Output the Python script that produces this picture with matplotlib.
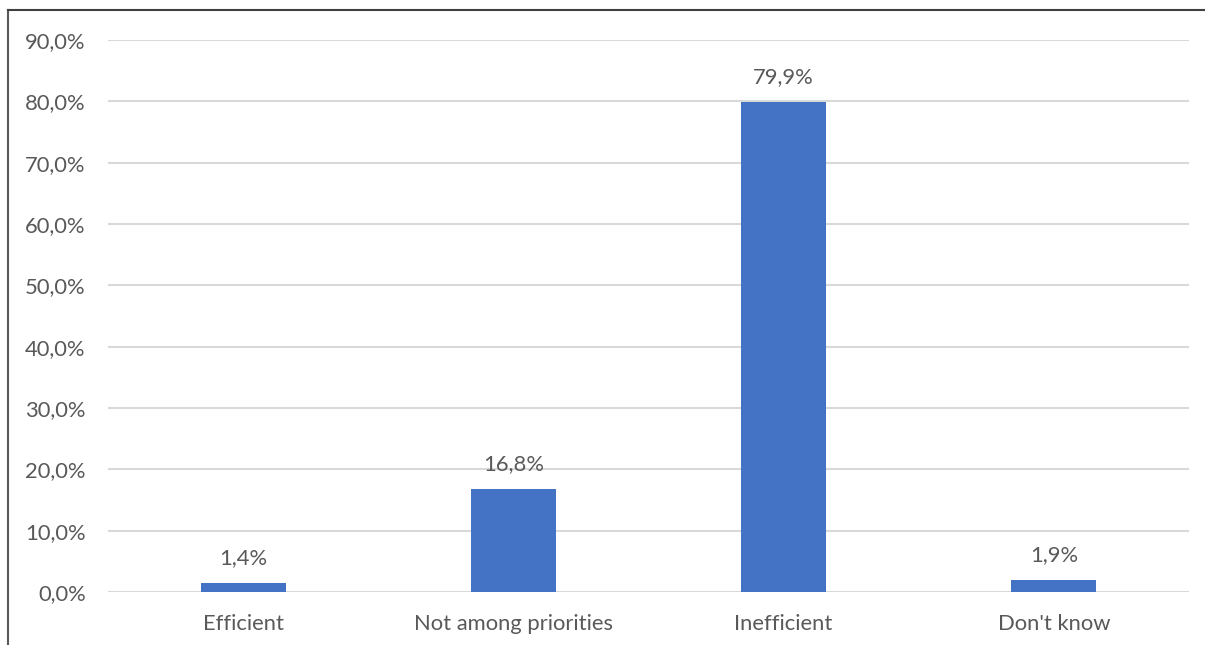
import matplotlib
matplotlib.use("Agg")
import matplotlib.pyplot as plt
from matplotlib.lines import Line2D
from matplotlib.ticker import FuncFormatter, MultipleLocator

categories = ["Efficient", "Not among priorities", "Inefficient", "Don't know"]
values = [1.4, 16.8, 79.9, 1.9]
labels = ["1,4%", "16,8%", "79,9%", "1,9%"]

plt.rcParams['font.family'] = ['Lato', 'DejaVu Sans']
text_color = "#595959"
fs = 15.8

fig = plt.figure(figsize=(12.05, 6.45), dpi=100)
ax = fig.add_axes([108/1205, 53/645, (1189-108)/1205, (592-40)/645])

x = range(len(categories))
bars = ax.bar(x, values, width=0.315, color="#4472C4", zorder=3)
for xi, v, lab in zip(x, values, labels):
    ax.annotate(lab, (xi, v), xytext=(0, 11), textcoords="offset points",
                ha="center", va="bottom", fontsize=fs, color=text_color)

ax.set_xlim(-0.5, len(categories) - 0.5)
ax.set_ylim(0, 90)
ax.yaxis.set_major_locator(MultipleLocator(10))
ax.yaxis.set_major_formatter(FuncFormatter(lambda v, p: f"{v:.1f}%".replace(".", ",")))
ax.set_xticks(list(x))
ax.set_xticklabels(categories)
ax.tick_params(axis='both', length=0, labelsize=fs, labelcolor=text_color)
ax.tick_params(axis='y', pad=16)
ax.tick_params(axis='x', pad=16)
ax.grid(axis='y', color="#D9D9D9", linewidth=1.5, zorder=0)
for s in ax.spines.values():
    s.set_visible(False)

# outer chart border (left and top visible)
fig.add_artist(Line2D([8/1205, 8/1205], [0, 1 - 10/645], transform=fig.transFigure, color="#595959", linewidth=1.5))
fig.add_artist(Line2D([8/1205, 1], [1 - 10/645, 1 - 10/645], transform=fig.transFigure, color="#404040", linewidth=1.5))

fig.savefig("out.png", dpi=100)
